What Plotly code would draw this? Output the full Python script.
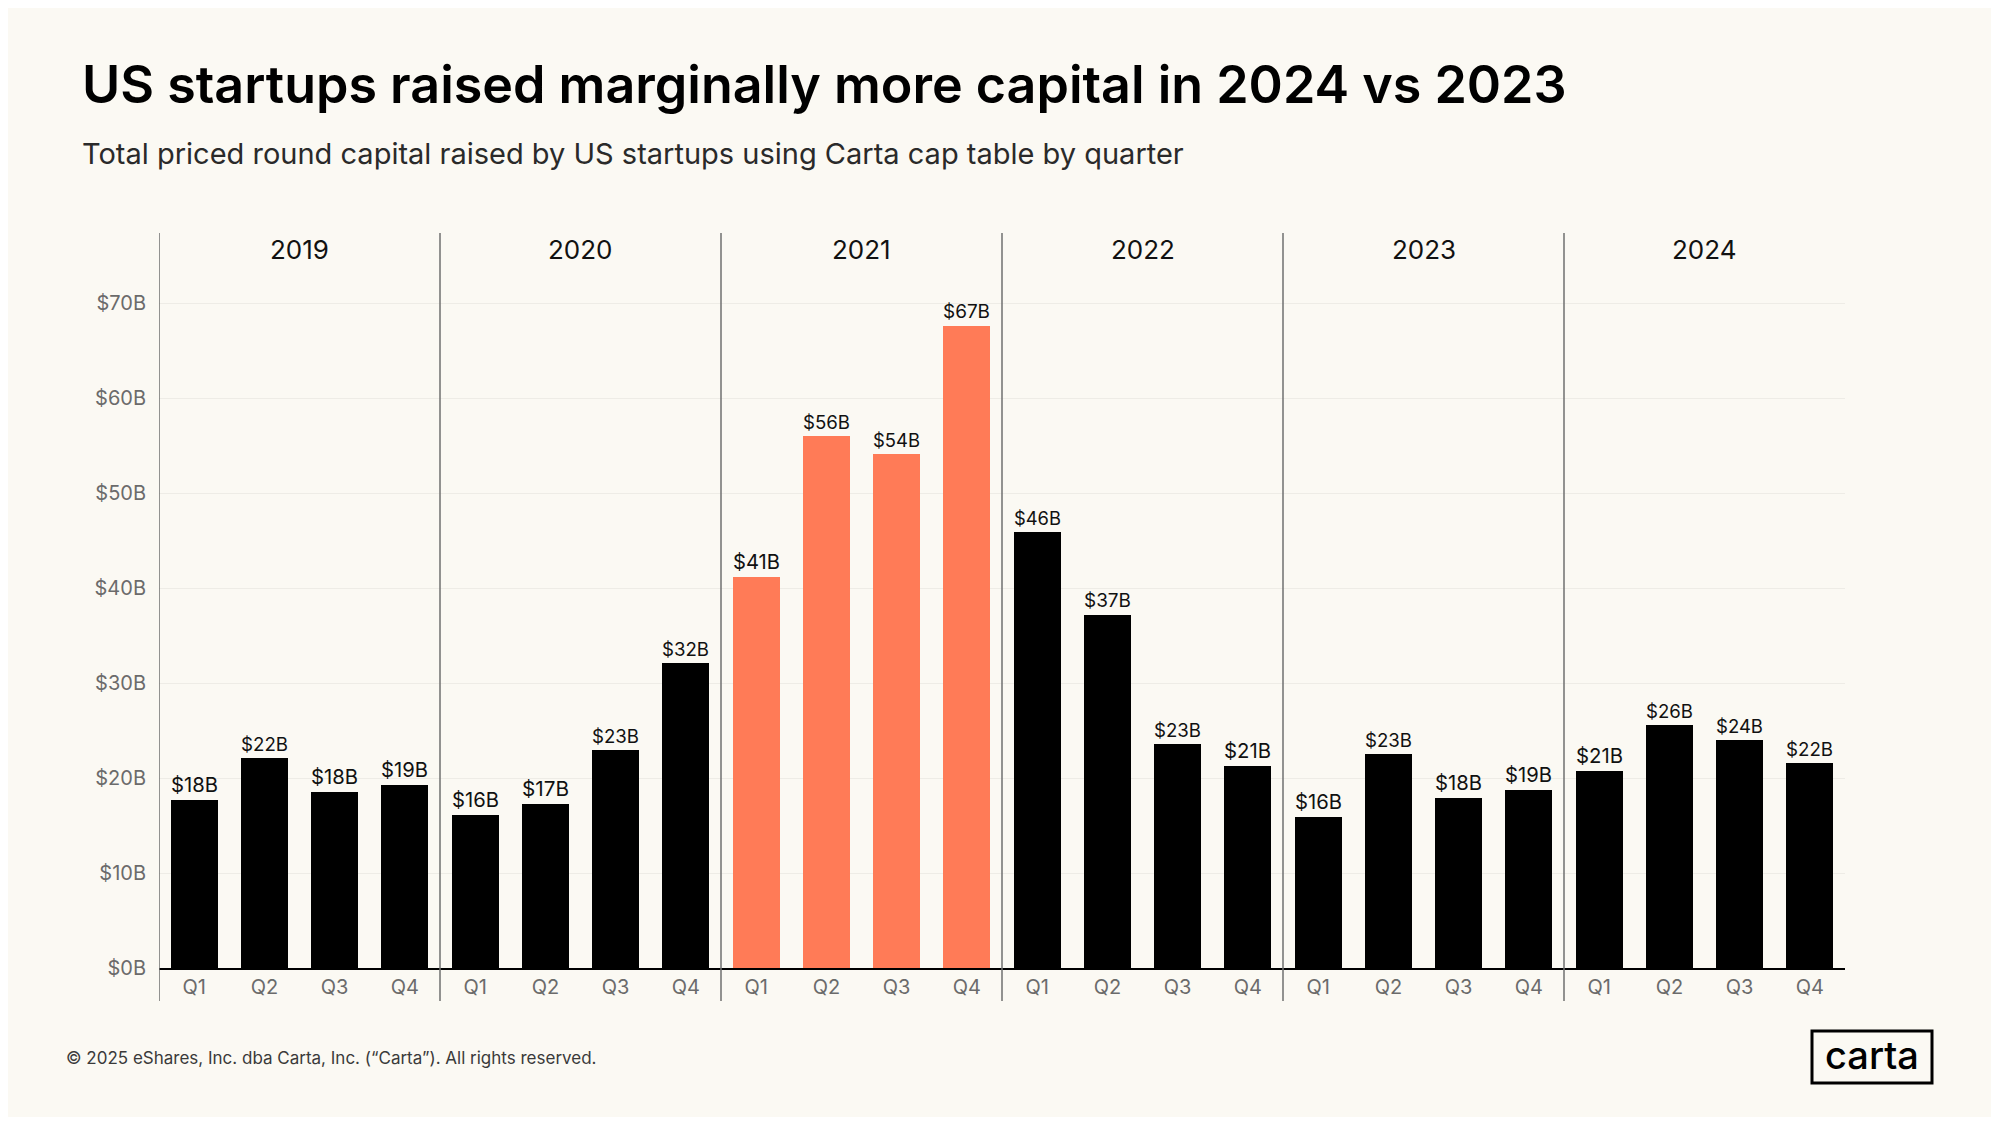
import plotly.graph_objects as go

# data ($ billions per quarter)
years = ["2019", "2020", "2021", "2022", "2023", "2024"]
quarters = ["Q1", "Q2", "Q3", "Q4"]
capital = [
    17.7, 22.1, 18.5, 19.3,   # 2019
    16.1, 17.3, 22.9, 32.1,   # 2020
    41.2, 56.0, 54.1, 67.6,   # 2021
    45.9, 37.2, 23.6, 21.3,   # 2022
    15.9, 22.5, 17.9, 18.7,   # 2023
    20.7, 25.6, 24.0, 21.6,   # 2024
]
bar_labels = [
    "$18B", "$22B", "$18B", "$19B",
    "$16B", "$17B", "$23B", "$32B",
    "$41B", "$56B", "$54B", "$67B",
    "$46B", "$37B", "$23B", "$21B",
    "$16B", "$23B", "$18B", "$19B",
    "$21B", "$26B", "$24B", "$22B",
]
highlight_year = "2021"
y_ticks = [0, 10, 20, 30, 40, 50, 60, 70]

BG = "#FBF9F3"
ORANGE = "#FF7B57"
FONT = "Inter"

# page body has an 8px margin, so everything is laid out 8px up/left
OFF = 8
W, H = 1999 - 2 * OFF, 1125 - 2 * OFF
L, R, T, B = 159 - OFF, 154 - OFF, 233 - OFF, 157 - OFF
PW, PH = W - L - R, H - T - B


def px_x(px):
    return (px - OFF - L) / PW


def px_y(py):
    return (H - B - (py - OFF)) / PH


x_pos = list(range(len(capital)))
colors = []
for i in x_pos:
    colors.append(ORANGE if years[i // 4] == highlight_year else "#000000")

fig = go.Figure()
fig.add_trace(go.Bar(
    x=x_pos,
    y=capital,
    width=0.67,
    marker=dict(color=colors, line=dict(width=0)),
    text=bar_labels,
    textposition="outside",
    textfont=dict(family=FONT, size=21, color="#111111"),
    cliponaxis=False,
    hoverinfo="skip",
))

fig.update_layout(
    width=W, height=H,
    margin=dict(l=L, r=R, t=T, b=B),
    paper_bgcolor=BG, plot_bgcolor=BG,
    showlegend=False,
    bargap=0,
    font=dict(family=FONT, color="#111111"),
)

fig.update_xaxes(
    range=[-0.5, len(capital) - 0.5],
    tickvals=x_pos,
    ticktext=quarters * len(years),
    tickfont=dict(family=FONT, size=20, color="#6b6b6b"),
    showgrid=False, zeroline=False,
    showline=True, linecolor="#000000", linewidth=2,
    ticks="",
)
fig.update_yaxes(
    range=[0, PH / 9.5],
    tickvals=y_ticks,
    ticktext=["$%dB" % v for v in y_ticks],
    tickfont=dict(family=FONT, size=20, color="#6b6b6b"),
    showgrid=True, gridcolor="#EEECE6", gridwidth=1,
    zeroline=False, showline=False,
    ticklabelstandoff=12,
)

# year separators and year labels
for k, yr in enumerate(years):
    fig.add_shape(type="line", xref="x", yref="paper",
                  x0=4 * k - 0.5, x1=4 * k - 0.5,
                  y0=px_y(1001), y1=1,
                  line=dict(color="#6f6f6f", width=1.5))
    fig.add_annotation(x=4 * k + 1.5, y=px_y(249), xref="x", yref="paper",
                       text=yr, showarrow=False, yanchor="middle",
                       font=dict(family=FONT, size=26, color="#111111"))

# titles
fig.add_annotation(x=px_x(80), y=px_y(84), xref="paper", yref="paper",
                   text="US startups raised marginally more capital in 2024 vs 2023",
                   showarrow=False, xanchor="left", yanchor="middle",
                   font=dict(family=FONT, size=52, color="#000000", weight=600))
fig.add_annotation(x=px_x(80), y=px_y(153), xref="paper", yref="paper",
                   text="Total priced round capital raised by US startups using Carta cap table by quarter",
                   showarrow=False, xanchor="left", yanchor="middle",
                   font=dict(family=FONT, size=29, color="#2a2a2a"))

# footer
fig.add_annotation(x=px_x(64), y=px_y(1058), xref="paper", yref="paper",
                   text="© 2025 eShares, Inc. dba Carta, Inc. (“Carta”). All rights reserved.",
                   showarrow=False, xanchor="left", yanchor="middle",
                   font=dict(family=FONT, size=17, color="#3a3a3a"))

# logo box
fig.add_shape(type="rect", xref="paper", yref="paper",
              x0=px_x(1812), x1=px_x(1932), y0=px_y(1083), y1=px_y(1031),
              line=dict(color="#000000", width=3))
fig.add_annotation(x=px_x(1872), y=px_y(1055), xref="paper", yref="paper",
                   text="carta", showarrow=False, xanchor="center", yanchor="middle",
                   font=dict(family=FONT, size=38, color="#000000", weight=500))

fig.write_html("out.html")
